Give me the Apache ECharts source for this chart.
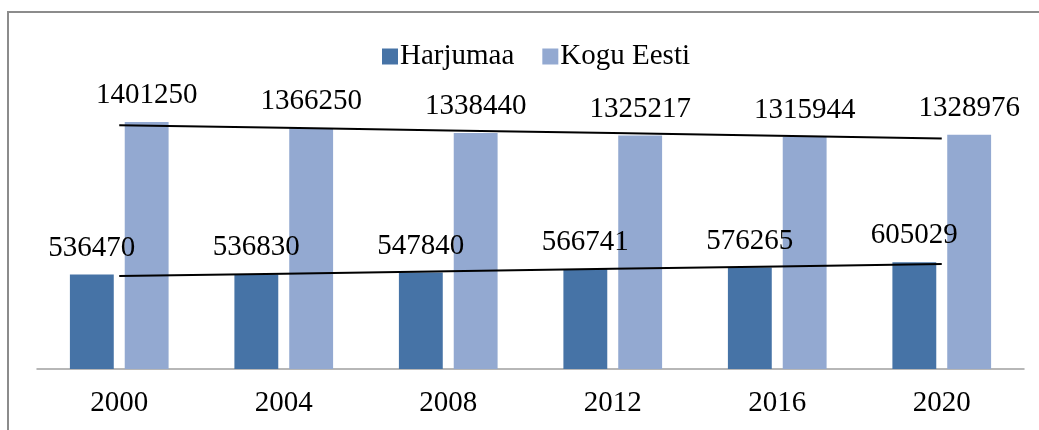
<!DOCTYPE html>
<html>
<head>
<meta charset="utf-8">
<script src="https://cdn.jsdelivr.net/npm/echarts@6/dist/echarts.min.js"></script>
<style>
  html, body { margin: 0; padding: 0; background: #fff; }
  #chart { width: 1039px; height: 430px; }
</style>
</head>
<body>
<div id="chart"></div>
<script>
var years = ['2000', '2004', '2008', '2012', '2016', '2020'];
var harjumaa = [536470, 536830, 547840, 566741, 576265, 605029];
var koguEesti = [1401250, 1366250, 1338440, 1325217, 1315944, 1328976];
// linear trend lines
var harjuTrend = [527243, 540957, 554672, 568386, 582100, 595814];
var koguTrend = [1383550, 1368535, 1353520, 1338505, 1323490, 1308476];

var font = 'Liberation Serif, Times New Roman, serif';

var chart = echarts.init(document.getElementById('chart'));

function barLabel() {
  return {
    show: true,
    position: 'top',
    distance: 12,
    color: '#000',
    fontFamily: font,
    fontSize: 29
  };
}

function trendLine(data) {
  return {
    type: 'line',
    data: data,
    symbol: 'none',
    silent: true,
    z: 5,
    lineStyle: { color: '#000', width: 2 },
    tooltip: { show: false }
  };
}

var option = {
  animation: false,
  graphic: [{
    type: 'rect',
    shape: { x: 8, y: 12, width: 1200, height: 600 },
    style: { fill: 'none', stroke: '#8c8c8c', lineWidth: 2 },
    silent: true
  }],
  legend: {
    data: ['Harjumaa', 'Kogu Eesti'],
    left: 377,
    top: 37,
    itemWidth: 16,
    itemHeight: 16,
    itemGap: 28,
    icon: 'rect',
    textStyle: { color: '#000', fontFamily: font, fontSize: 29, padding: [0, 0, 0, -3] }
  },
  grid: { left: 37, right: 15, top: 87, bottom: 61 },
  xAxis: {
    type: 'category',
    data: years,
    axisLine: { lineStyle: { color: '#a0a0a0', width: 1.5 } },
    axisTick: { show: false },
    axisLabel: { color: '#000', fontFamily: font, fontSize: 29, margin: 20 }
  },
  yAxis: {
    type: 'value',
    min: 0,
    max: 1600000,
    show: false,
    splitLine: { show: false }
  },
  series: [
    {
      name: 'Harjumaa',
      type: 'bar',
      data: harjumaa,
      barGap: '25%',
      barCategoryGap: '40%',
      itemStyle: { color: '#4673a6' },
      label: barLabel()
    },
    {
      name: 'Kogu Eesti',
      type: 'bar',
      data: koguEesti,
      itemStyle: { color: '#93a9d1' },
      label: barLabel()
    },
    trendLine(harjuTrend),
    trendLine(koguTrend)
  ]
};

chart.setOption(option);
</script>
</body>
</html>
